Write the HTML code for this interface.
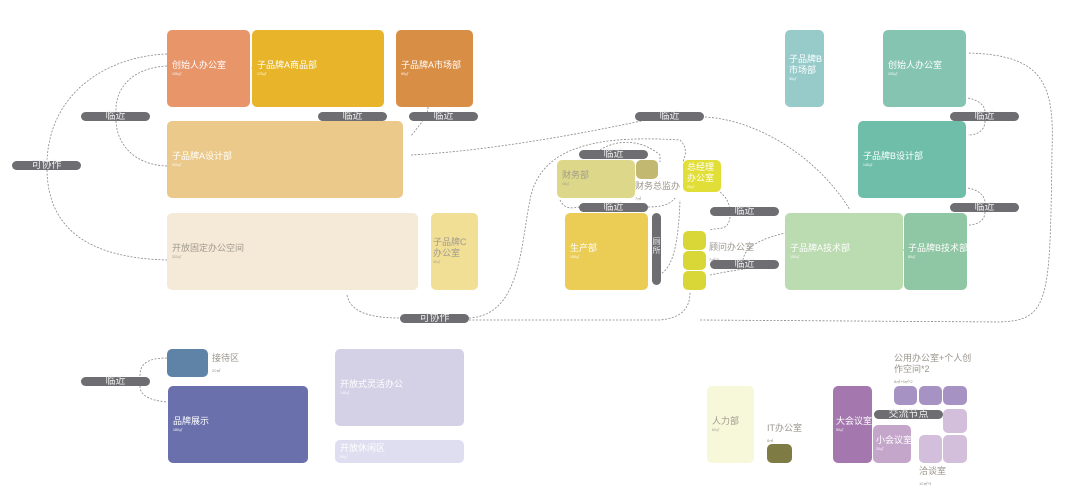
<!DOCTYPE html>
<html><head><meta charset="utf-8"><style>
body{margin:0;width:1080px;height:504px;background:#fff;position:relative;overflow:hidden;font-family:"Liberation Sans","Noto Sans CJK SC",sans-serif}
.b{position:absolute;border-radius:5px;color:#fff;font-size:9px;box-sizing:border-box;padding-left:5px;display:flex;flex-direction:column;justify-content:center;line-height:11px;white-space:nowrap}
.b small{font-size:3.5px;line-height:7px}
.g{color:#a09a8e}
.p{position:absolute;height:9px;width:69px;border-radius:5px;background:#6e6e72;color:#eee;font-size:10px;line-height:10px;text-align:center;white-space:nowrap}
.t{position:absolute;font-size:9px;color:#9a958c;line-height:11px;white-space:nowrap}
svg{position:absolute;left:0;top:0}
</style></head><body>
<svg width="1080" height="504" fill="none" stroke="#888" stroke-width="0.8" stroke-dasharray="2,1.5">
<path d="M167 54 C110 56 50 90 47 161 M47 170 C48 230 90 258 167 260"/>
<path d="M167 66 C130 68 115 90 116 112 M116 121 C117 145 135 165 167 166"/>
<path d="M428 107 C428 115 425 118 411 136"/>
<path d="M411 155 C500 150 600 130 660 117 M705 117 C760 120 820 160 850 210"/>
<path d="M347 295 C350 310 365 318 400 318 M469 318 C520 315 520 250 530 200 C540 145 600 135 680 140 C690 150 683 160 683 162"/>
<path d="M469 320 L660 320 C680 318 690 310 690 292 M700 320 L1000 322 C1050 320 1050 300 1052 150 C1055 80 1040 55 968 53"/>
<path d="M600 150 C615 140 640 138 660 155 L660 162"/>
<path d="M560 200 C565 210 572 208 580 207 M648 207 C660 207 670 205 675 198"/>
<path d="M659 275 C668 270 678 260 680 200"/>
<path d="M720 192 C730 200 730 210 730 212 M730 217 C728 232 718 227 710 230"/>
<path d="M710 275 C720 273 735 270 745 269 M743 260 C745 245 765 238 785 233"/>
<path d="M968 98 C978 100 985 105 985 112 M985 121 C985 130 978 135 968 135"/>
<path d="M968 188 C978 190 985 195 985 203 M985 212 C985 220 978 225 968 225"/>
<path d="M167 358 C140 358 140 370 140 377 M140 386 C140 393 145 400 167 402"/>
<path d="M248 68 L252 68 M903 250 L904 250"/>
</svg>
<div class="b" style="left:167px;top:30px;width:83px;height:77px;background:#E8956A">创始人办公室<small>100㎡</small></div>
<div class="b" style="left:252px;top:30px;width:132px;height:77px;background:#E8B52A">子品牌A商品部<small>170㎡</small></div>
<div class="b" style="left:396px;top:30px;width:77px;height:77px;background:#D98E45">子品牌A市场部<small>90㎡</small></div>
<div class="b" style="left:167px;top:121px;width:236px;height:77px;background:#EBC98A">子品牌A设计部<small>300㎡</small></div>
<div class="b g" style="left:167px;top:213px;width:251px;height:77px;background:#F5E9D7">开放固定办公空间<small>320㎡</small></div>
<div class="b g" style="left:431px;top:213px;width:47px;height:77px;background:#F2DF96;padding-left:2px">子品牌C<br>办公室<small>40㎡</small></div>
<div class="p" style="left:81px;top:112px">临近</div>
<div class="p" style="left:318px;top:112px">临近</div>
<div class="p" style="left:409px;top:112px">临近</div>
<div class="p" style="left:12px;top:161px">可协作</div>
<div class="p" style="left:400px;top:314px">可协作</div>
<div class="b g" style="left:557px;top:160px;width:78px;height:38px;background:#DDD889">财务部<small>45㎡</small></div>
<div class="b" style="left:636px;top:160px;width:22px;height:19px;background:#C3B870"></div>
<div class="t" style="left:635px;top:181px">财务总监办<br><span style="font-size:4px">7㎡</span></div>
<div class="b" style="left:683px;top:160px;width:38px;height:32px;background:#E2DE38;padding-left:4px">总经理<br>办公室<small>20㎡</small></div>
<div class="b" style="left:565px;top:213px;width:83px;height:77px;background:#EBCD55">生产部<small>105㎡</small></div>
<div class="p" style="left:652px;top:213px;width:9px;height:72px;font-size:8px;line-height:9px;padding-top:24px;box-sizing:border-box">厕<br>所</div>
<div class="b" style="left:683px;top:231px;width:23px;height:19px;background:#D9D738"></div>
<div class="b" style="left:683px;top:251px;width:23px;height:19px;background:#D9D738"></div>
<div class="b" style="left:683px;top:271px;width:23px;height:19px;background:#D9D738"></div>
<div class="t" style="left:709px;top:242px">顾问办公室<br><span style="font-size:4px">7㎡*3</span></div>
<div class="p" style="left:579px;top:150px">临近</div>
<div class="p" style="left:579px;top:203px">临近</div>
<div class="p" style="left:710px;top:207px">临近</div>
<div class="p" style="left:710px;top:260px">临近</div>
<div class="p" style="left:635px;top:112px">临近</div>
<div class="b" style="left:785px;top:30px;width:39px;height:77px;background:#97CBCA;padding-left:4px">子品牌B<br>市场部<small>30㎡</small></div>
<div class="b" style="left:883px;top:30px;width:83px;height:77px;background:#85C4B0">创始人办公室<small>100㎡</small></div>
<div class="b" style="left:858px;top:121px;width:108px;height:77px;background:#6FBEAA">子品牌B设计部<small>140㎡</small></div>
<div class="b" style="left:785px;top:213px;width:118px;height:77px;background:#BBDBB0">子品牌A技术部<small>150㎡</small></div>
<div class="b" style="left:904px;top:213px;width:63px;height:77px;background:#8FC6A3;padding-left:4px">子品牌B技术部<small>80㎡</small></div>
<div class="p" style="left:950px;top:112px">临近</div>
<div class="p" style="left:950px;top:203px">临近</div>
<div class="p" style="left:81px;top:377px">临近</div>
<div class="b" style="left:167px;top:349px;width:41px;height:28px;background:#5F83A7"></div>
<div class="t" style="left:212px;top:353px">接待区<br><span style="font-size:4px">20㎡</span></div>
<div class="b" style="left:168px;top:386px;width:140px;height:77px;background:#6970AC">品牌展示<small>180㎡</small></div>
<div class="b" style="left:335px;top:349px;width:129px;height:77px;background:#D4D1E6">开放式灵活办公<small>140㎡</small></div>
<div class="b" style="left:335px;top:440px;width:129px;height:23px;background:#DFDEF0">开放休闲区<small>50㎡</small></div>
<div class="b g" style="left:707px;top:386px;width:47px;height:77px;background:#F7F7D9">人力部<small>60㎡</small></div>
<div class="t" style="left:767px;top:423px">IT办公室<br><span style="font-size:4px">8㎡</span></div>
<div class="b" style="left:767px;top:444px;width:25px;height:19px;background:#7F7B45"></div>
<div class="b" style="left:833px;top:386px;width:39px;height:77px;background:#A478AE;padding-left:3px">大会议室<small>50㎡</small></div>
<div class="b" style="left:873px;top:425px;width:38px;height:38px;background:#C5A6CB;padding-left:3px">小会议室<small>20㎡</small></div>
<div class="b" style="left:894px;top:386px;width:23px;height:19px;background:#A793C3"></div>
<div class="b" style="left:919px;top:386px;width:23px;height:19px;background:#A793C3"></div>
<div class="b" style="left:943px;top:386px;width:24px;height:19px;background:#A793C3"></div>
<div class="b" style="left:943px;top:409px;width:24px;height:24px;background:#D3BEDB"></div>
<div class="b" style="left:943px;top:435px;width:24px;height:28px;background:#D3BEDB"></div>
<div class="b" style="left:919px;top:435px;width:23px;height:28px;background:#D3BEDB"></div>
<div class="p" style="left:874px;top:410px">交流节点</div>
<div class="t" style="left:894px;top:353px">公用办公室+个人创<br>作空间*2<br><span style="font-size:4px">8㎡+5㎡*2</span></div>
<div class="t" style="left:919px;top:466px">洽谈室<br><span style="font-size:4px">10㎡*3</span></div>
</body></html>
